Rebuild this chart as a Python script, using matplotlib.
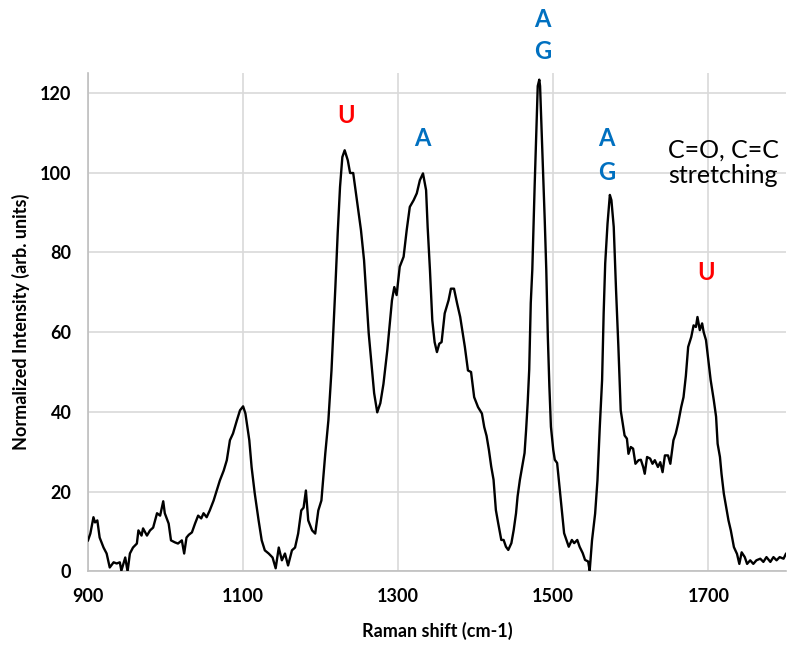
import matplotlib
matplotlib.use('Agg')
import matplotlib.pyplot as plt

plt.rcParams['font.family'] = ['Lato', 'DejaVu Sans']

# Raman spectrum (normalized intensity vs shift)
shift = [
    900, 903, 907, 909, 912, 915, 920, 924, 928, 933, 937, 941, 943, 948, 951,
    954, 958, 963, 965, 969, 971, 976, 980, 984, 989, 993, 997, 999, 1004, 1007,
    1012, 1016, 1021, 1024, 1027, 1030, 1034, 1038, 1042, 1046, 1049, 1053, 1057,
    1062, 1066, 1070, 1075, 1079, 1083, 1087, 1092, 1096, 1100, 1103, 1108, 1111,
    1115, 1120, 1124, 1128, 1133, 1138, 1142, 1146, 1150, 1154, 1158, 1163, 1167,
    1171, 1175, 1178, 1181, 1184, 1189, 1193, 1197, 1201, 1206, 1210, 1214, 1219,
    1222, 1225, 1228, 1231, 1235, 1238, 1242, 1245, 1249, 1252, 1256, 1259, 1262,
    1266, 1269, 1273, 1277, 1281, 1286, 1292, 1295, 1298, 1302, 1307, 1311, 1315,
    1320, 1324, 1328, 1332, 1336, 1338, 1341, 1344, 1347, 1350, 1353, 1356, 1360,
    1365, 1368, 1372, 1376, 1380, 1383, 1386, 1390, 1394, 1398, 1403, 1408, 1411,
    1414, 1417, 1420, 1423, 1426, 1429, 1433, 1436, 1439, 1442, 1446, 1449, 1452,
    1454, 1457, 1460, 1463, 1465, 1467, 1469, 1471, 1473, 1476, 1478, 1480, 1482,
    1483, 1486, 1489, 1491, 1493, 1495, 1497, 1500, 1502, 1505, 1508, 1511, 1514,
    1517, 1520, 1524, 1527, 1531, 1534, 1538, 1541, 1545, 1547, 1550, 1554, 1557,
    1560, 1563, 1565, 1567, 1570, 1573, 1575, 1578, 1581, 1584, 1587, 1589, 1592,
    1595, 1597, 1600, 1603, 1606, 1610, 1613, 1616, 1618, 1621, 1625, 1628, 1631,
    1635, 1638, 1641, 1644, 1648, 1651, 1655, 1658, 1661, 1665, 1668, 1671, 1674,
    1678, 1681, 1684, 1686, 1689, 1692, 1694, 1697, 1700, 1703, 1707, 1710, 1712,
    1715, 1717, 1720, 1723, 1726, 1729, 1733, 1737, 1740, 1743, 1747, 1750, 1754,
    1758, 1762, 1767, 1771, 1775, 1780, 1784, 1788, 1792, 1797, 1800,
]
intensity = [
    7.8, 9.5, 13.6, 12.3, 12.8, 8.5, 6.0, 4.5, 1.0, 2.3, 2.0, 2.3, 0.2, 3.5, 0.0,
    4.5, 6.0, 7.0, 10.3, 9.0, 10.8, 9.0, 10.3, 11.0, 14.6, 14.0, 17.6, 14.6, 12.0, 7.8,
    7.3, 7.0, 7.8, 4.5, 8.5, 9.2, 9.8, 12.0, 14.0, 13.3, 14.6, 13.6, 15.3,
    17.8, 20.3, 22.8, 25.3, 27.9, 32.9, 34.6, 37.9, 40.4, 41.4, 39.6, 32.9, 26.1,
    19.6, 12.8, 7.8, 5.3, 4.5, 3.5, 0.8, 6.0, 2.8, 4.5, 1.5, 5.3, 6.0,
    9.5, 15.3, 16.0, 20.3, 12.8, 10.3, 9.5, 15.3, 17.8, 29.6, 37.9, 50.4, 71.3,
    84.8, 96.4, 103.9, 105.6, 103.1, 99.9, 99.9, 95.6, 89.8, 85.6, 78.0, 68.8, 59.7,
    51.2, 44.7, 39.9, 42.2, 47.0, 55.5, 68.0, 71.3, 69.3, 76.4, 78.9, 85.6, 91.4,
    93.1, 94.8, 98.1, 99.8, 95.6, 86.4, 75.5, 63.0, 57.5, 55.0, 57.1, 57.5, 64.7,
    68.0, 70.9, 70.9, 67.2, 63.8, 60.0, 56.3, 50.4, 50.0, 43.7, 41.2, 39.6, 36.2,
    34.0, 30.5, 26.3, 23.0, 15.4, 12.1, 7.9, 7.9, 6.2, 5.4, 7.1, 10.4, 14.6,
    18.8, 23.0, 26.3, 29.7, 35.5, 42.2, 50.6, 67.3, 75.7, 96.6, 109.1, 121.7, 123.3,
    121.7, 104.9, 88.2, 75.7, 58.9, 46.4, 36.3, 30.5, 28.0, 27.2, 21.3, 15.4, 9.6,
    7.9, 6.2, 7.9, 7.1, 7.9, 6.2, 4.6, 2.9, 2.5, 0.2, 7.8, 14.5, 22.8,
    36.2, 48.0, 64.7, 77.2, 87.2, 94.4, 93.1, 86.4, 70.5, 56.3, 40.4, 37.9, 34.1,
    33.3, 29.5, 31.2, 30.8, 27.0, 27.9, 28.0, 26.2, 24.5, 28.7, 28.3, 27.0, 27.9,
    26.2, 27.4, 24.9, 29.1, 29.1, 27.0, 32.9, 34.6, 37.1, 41.2, 43.7, 49.0, 56.3,
    58.8, 61.7, 61.3, 63.8, 60.5, 62.2, 60.0, 58.0, 53.0, 48.0, 43.0, 38.8, 32.0,
    28.7, 24.5, 19.5, 16.1, 12.8, 10.3, 6.1, 4.4, 1.9, 4.8, 3.6, 1.9, 2.8,
    1.9, 2.8, 3.2, 2.4, 3.6, 2.4, 3.6, 2.8, 3.6, 3.2, 4.4,
]

x_ticks = [900, 1100, 1300, 1500, 1700]
y_ticks = [0, 20, 40, 60, 80, 100, 120]

# nucleobase assignments placed over the bands
band_labels = ['U', 'A', 'A', 'G', 'A', 'G', 'U']
band_colors = ['#ff0000', '#0070c0', '#0070c0', '#0070c0', '#0070c0', '#0070c0', '#ff0000']

fig = plt.figure(figsize=(7.93, 6.45), dpi=100)
ax = fig.add_axes([0.111, 0.114, 0.880, 0.773])

ax.plot(shift, intensity, color='black', lw=1.7, zorder=3)

ax.set_xlim(900, 1800)
ax.set_ylim(0, 125)
ax.set_xticks(x_ticks)
ax.set_yticks(y_ticks)
ax.grid(True, color='#d9d9d9', lw=1.2, zorder=0)
ax.set_axisbelow(True)
ax.tick_params(length=0, labelsize=13, pad=12)
for lab in ax.get_xticklabels() + ax.get_yticklabels():
    lab.set_fontweight('bold')

for side in ['top', 'right']:
    ax.spines[side].set_visible(False)
for side in ['left', 'bottom']:
    ax.spines[side].set_color('#bfbfbf')
    ax.spines[side].set_linewidth(1.2)

ax.set_xlabel('Raman shift (cm-1)', fontsize=13, fontweight='bold', labelpad=12)
ax.set_ylabel('Normalized Intensity (arb. units)', fontsize=13, fontweight='bold', labelpad=7)

label_pos = [(1233, 114.3), (1331, 108.5), (1486, 138.5), (1486, 130.3),
             (1569, 108.5), (1569, 100.0), (1697, 74.9)]
for txt, col, (lx, ly) in zip(band_labels, band_colors, label_pos):
    ax.text(lx, ly, txt, color=col, fontsize=17, fontweight='bold',
            ha='center', va='center', clip_on=False)

ax.text(1648, 102.5, 'C=O, C=C\nstretching', fontsize=18, ha='left',
        va='center', linespacing=1.1, clip_on=False)

fig.savefig('out.png', dpi=100)
